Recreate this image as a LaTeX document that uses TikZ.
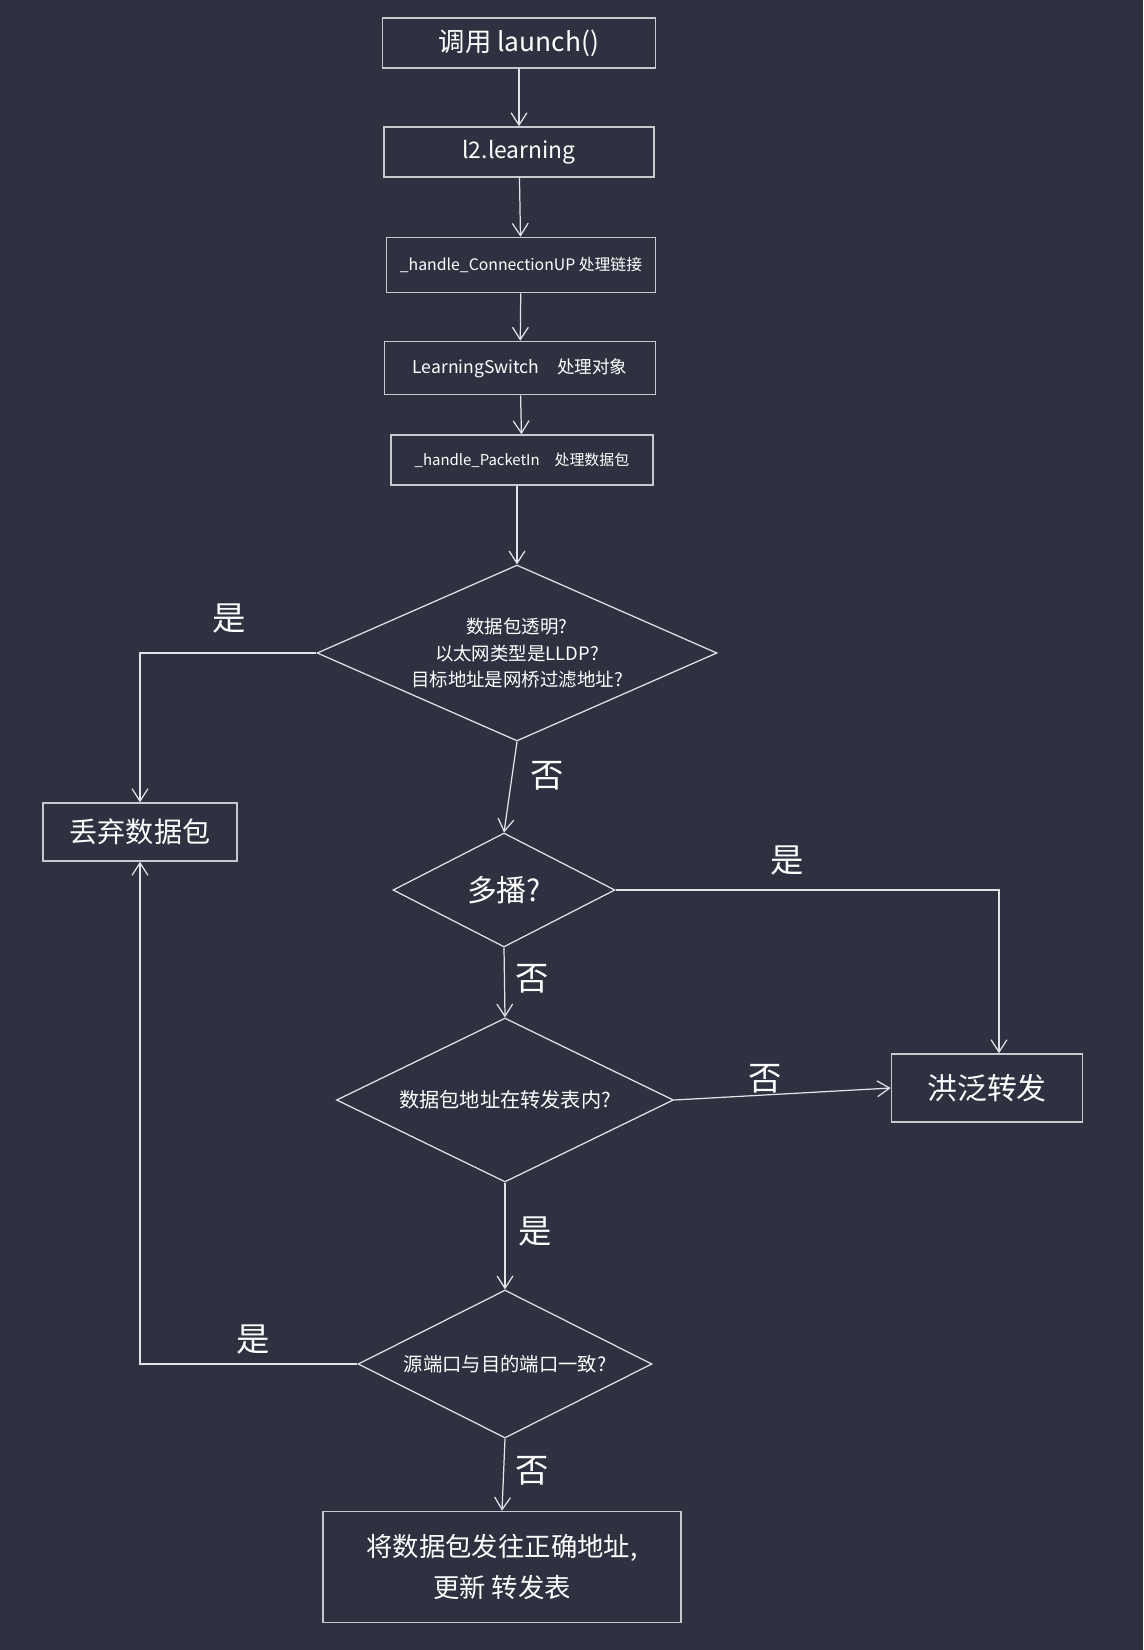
\documentclass[tikz,border=0pt]{standalone}
\usepackage{fontspec}
\setmainfont{Noto Sans CJK SC}
\usepackage{xcolor}
\usepackage{tikz}
\usetikzlibrary{shapes.geometric, arrows.meta, positioning, calc}
\definecolor{BgDark}{RGB}{46, 49, 64}
\definecolor{LineWhite}{RGB}{228, 228, 232}
\definecolor{BoxGray}{RGB}{200, 200, 206}

\begin{document}
\begin{tikzpicture}[x=0.02cm, y=-0.02cm,
    box/.style={draw=BoxGray, line width=0.9pt, rectangle, inner sep=0pt, text=white},
    decision/.style={draw=LineWhite, line width=0.7pt, diamond, inner sep=0pt, align=center, text=white, shape aspect=2.05},
    flow/.style={draw=LineWhite, line width=0.7pt, -{Straight Barb[length=7pt, width=9pt]}},
    yesno/.style={text=white, font=\fontsize{19}{19}\selectfont}]
    % 背景
    \fill[BgDark] (0,0) rectangle (1143,1650);
    \useasboundingbox (0,0) rectangle (1143,1650);

    % 初始化流程
    \node[box, minimum width=5.46cm, minimum height=1.0cm, font=\fontsize{15}{15}\selectfont] (launch) at (519,43) {调用 launch()};
    \node[box, minimum width=5.4cm, minimum height=1.0cm, font=\fontsize{13}{13}\selectfont] (l2learn) at (519,152) {l2.learning};
    \node[box, minimum width=5.38cm, minimum height=1.1cm, font=\fontsize{9}{9}\selectfont] (connup) at (521,265) {\_handle\_ConnectionUP 处理链接};
    \node[box, minimum width=5.42cm, minimum height=1.06cm, font=\fontsize{10}{10}\selectfont] (lswitch) at (520,368) {LearningSwitch\quad 处理对象};
    \node[box, minimum width=5.24cm, minimum height=1.0cm, font=\fontsize{8.5}{8.5}\selectfont] (packetin) at (522,460) {\_handle\_PacketIn\quad 处理数据包};

    % 判断节点
    \node[decision, shape aspect=2.27, minimum width=8.0cm, minimum height=3.52cm, font=\fontsize{10.5}{15}\selectfont] (transp) at (517,653)
        {数据包透明?\\以太网类型是LLDP?\\目标地址是网桥过滤地址?};
    \node[decision, shape aspect=1.95, minimum width=4.44cm, minimum height=2.28cm, font=\fontsize{17}{17}\selectfont] (multi) at (504,890) {多播?};
    \node[decision, minimum width=6.74cm, minimum height=3.28cm, font=\fontsize{11.5}{11.5}\selectfont] (intable) at (505,1100) {数据包地址在转发表内?};
    \node[decision, shape aspect=1.99, minimum width=5.88cm, minimum height=2.96cm, font=\fontsize{11}{11}\selectfont] (sameport) at (505,1364) {源端口与目的端口一致?};

    % 结果节点
    \node[box, minimum width=3.88cm, minimum height=1.16cm, font=\fontsize{16}{16}\selectfont] (drop) at (140,832) {丢弃数据包};
    \node[box, minimum width=3.82cm, minimum height=1.36cm, font=\fontsize{17}{17}\selectfont] (flood) at (987,1088) {洪泛转发};
    \node[box, minimum width=7.16cm, minimum height=2.22cm, align=center, font=\fontsize{15}{23}\selectfont] (forward) at (502,1567)
        {将数据包发往正确地址,\\更新 转发表};

    % 主干连线
    \draw[flow] (launch) -- (l2learn);
    \draw[flow] (l2learn) -- (connup);
    \draw[flow] (connup) -- (lswitch);
    \draw[flow] (lswitch) -- (packetin);
    \draw[flow] (packetin.south -| transp.north) -- (transp.north);
    \draw[flow] (transp.south) -- (multi.north);
    \draw[flow] (multi.south) -- (intable.north);
    \draw[flow] (intable.south) -- (sameport.north);
    \draw[flow] (sameport.south) -- (forward.north);

    % 分支连线
    \draw[flow] (transp.west) -| (drop.north);
    \draw[flow] (multi.east) -| ([xshift=0.24cm]flood.north);
    \draw[flow] (intable.east) -- (flood.west);
    \draw[flow] (sameport.west) -| (drop.south);

    % 是/否 标注
    \node[yesno] (y1) at (229,619) {是};
    \node[yesno] (n1) at (547,776) {否};
    \node[yesno] (y2) at (787,861) {是};
    \node[yesno] (n2) at (532,979) {否};
    \node[yesno] (n3) at (765,1079) {否};
    \node[yesno] (y3) at (535,1231) {是};
    \node[yesno] (y4) at (253,1339) {是};
    \node[yesno] (n4) at (532,1471) {否};
\end{tikzpicture}
\end{document}
